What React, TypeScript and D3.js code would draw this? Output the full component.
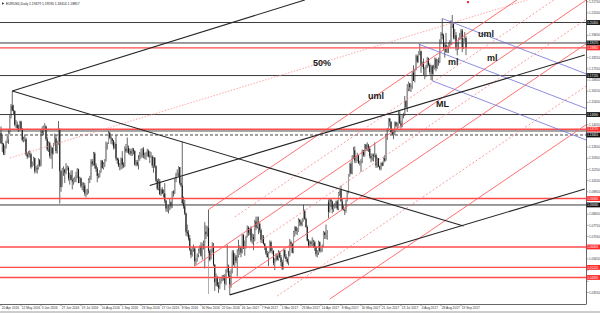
import React from 'react';
import * as d3 from 'd3';

const WIDTH = 600;
const HEIGHT = 313;
const PLOT_RIGHT = 586;
const PLOT_BOTTOM = 304;

const symbolTitle = 'EURUSD,Daily';
const lastBarQuote = ['1.19479', '1.19590', '1.18414', '1.18857'];

// Daily EURUSD bars as [high, low, close, open?] in pips above 1.0000.
// Open defaults to the previous close unless the session gapped.
const apr2016 = [
  [1395, 1285, 1290], [1340, 1235, 1285], [1290, 1215, 1225], [1275, 1215, 1265],
  [1305, 1255, 1300], [1335, 1290, 1315], [1370, 1285, 1355], [1465, 1345, 1455],
];
const may2016 = [
  [1535, 1445, 1525], [1616, 1490, 1495], [1530, 1470, 1490], [1495, 1395, 1405], [1435, 1385, 1405],
  [1425, 1370, 1385], [1405, 1360, 1375], [1430, 1370, 1425], [1430, 1370, 1375], [1385, 1300, 1310],
  [1330, 1295, 1315], [1345, 1300, 1315], [1325, 1210, 1220], [1230, 1190, 1205], [1240, 1200, 1225],
  [1245, 1200, 1220], [1230, 1130, 1140], [1175, 1140, 1155], [1205, 1150, 1195], [1200, 1100, 1115],
  [1145, 1105, 1135], [1155, 1100, 1130],
];
const jun2016 = [
  [1195, 1125, 1185], [1190, 1140, 1150], [1375, 1145, 1365],
  [1395, 1335, 1355], [1400, 1340, 1395], [1415, 1370, 1395], [1400, 1305, 1315], [1330, 1240, 1250],
  [1300, 1235, 1290], [1300, 1195, 1210], [1275, 1190, 1260], [1265, 1130, 1225], [1290, 1220, 1275],
  [1350, 1290, 1320], [1340, 1225, 1240], [1305, 1225, 1290], [1428, 1280, 1380], [1380, 912, 1115],
  [1120, 985, 1015], [1135, 1030, 1125], [1145, 1085, 1125], [1130, 1040, 1105],
];
const jul2016 = [
  [1165, 1095, 1135],
  [1150, 1120, 1135], [1145, 1055, 1070], [1105, 1030, 1090], [1120, 1060, 1060], [1120, 1000, 1050],
  [1070, 1030, 1060], [1080, 1045, 1060], [1110, 1045, 1090], [1135, 1070, 1125], [1130, 1040, 1040],
  [1080, 1040, 1070], [1075, 1010, 1020], [1045, 995, 1025], [1045, 985, 1025], [1040, 960, 975],
  [1000, 950, 990], [1005, 965, 995], [1070, 975, 1060], [1085, 1040, 1075], [1190, 1060, 1175],
];
const aug2016 = [
  [1190, 1145, 1160], [1235, 1150, 1225], [1235, 1130, 1150], [1165, 1110, 1130], [1140, 1045, 1085],
  [1100, 1070, 1090], [1120, 1075, 1115], [1185, 1105, 1180], [1185, 1130, 1135], [1170, 1125, 1160],
  [1190, 1140, 1180], [1300, 1175, 1290], [1295, 1250, 1290], [1366, 1285, 1355], [1360, 1315, 1325],
  [1335, 1285, 1320], [1320, 1280, 1305], [1310, 1250, 1265], [1295, 1255, 1285], [1340, 1180, 1195],
  [1200, 1160, 1185], [1195, 1140, 1150], [1165, 1120, 1155],
];
const sep2016 = [
  [1200, 1125, 1195], [1240, 1130, 1155],
  [1170, 1135, 1150], [1270, 1140, 1255], [1285, 1230, 1240], [1325, 1230, 1260], [1275, 1220, 1230],
  [1255, 1215, 1240], [1255, 1210, 1225], [1260, 1210, 1250], [1260, 1220, 1240], [1245, 1150, 1155],
  [1185, 1145, 1170], [1185, 1145, 1155], [1215, 1125, 1190], [1235, 1180, 1205], [1255, 1195, 1225],
  [1260, 1200, 1250], [1265, 1195, 1215], [1230, 1190, 1220], [1235, 1185, 1225], [1255, 1205, 1240],
];
const oct2016 = [
  [1250, 1200, 1210], [1240, 1165, 1205], [1235, 1200, 1205], [1215, 1135, 1150], [1205, 1105, 1200],
  [1200, 1135, 1145], [1150, 1045, 1055], [1065, 995, 1005], [1070, 995, 1050], [1065, 965, 970],
  [1005, 960, 1000], [1015, 970, 975], [1000, 950, 975], [1040, 915, 930], [935, 860, 880],
  [900, 860, 880], [905, 850, 880], [945, 870, 920], [925, 880, 895], [990, 885, 985],
  [995, 955, 980],
];
const nov2016 = [
  [1070, 970, 1055], [1105, 1045, 1095], [1125, 1085, 1105], [1145, 1080, 1140],
  [1140, 1030, 1040], [1075, 1015, 1025], [1300, 905, 915], [955, 880, 895], [935, 840, 850],
  [855, 710, 735], [780, 705, 725], [745, 680, 695], [715, 615, 625], [630, 570, 590],
  [640, 580, 630], [655, 610, 630], [640, 520, 550], [570, 530, 550], [600, 550, 590],
  [630, 575, 615], [650, 600, 645], [670, 580, 585],
];
const dec2016 = [
  [665, 560, 665], [680, 625, 665],
  [795, 505, 735], [775, 690, 720], [770, 705, 760], [874, 600, 615], [625, 550, 560],
  [630, 565, 625], [670, 605, 635], [665, 520, 530], [530, 365, 420], [475, 395, 450],
  [460, 390, 400], [420, 352, 385], [445, 375, 425], [450, 410, 440], [465, 425, 455],
  [465, 430, 455], [470, 370, 410], [500, 400, 495], [655, 480, 520],
];
const jan2017 = [
  [530, 450, 460], [490, 340, 405], [500, 385, 490], [620, 475, 605], [620, 525, 530],
  [600, 515, 580], [590, 540, 555], [625, 455, 585], [685, 575, 615], [650, 590, 640],
  [630, 575, 605], [720, 600, 715], [720, 630, 630], [680, 585, 660], [710, 630, 705],
  [775, 700, 760], [770, 710, 730], [760, 715, 755], [770, 670, 680], [725, 660, 700],
  [720, 620, 690], [810, 675, 800],
];
const feb2017 = [
  [830, 745, 765], [830, 755, 760], [830, 720, 785],
  [795, 730, 745], [755, 665, 685], [715, 665, 700], [715, 655, 660], [665, 620, 640],
  [645, 590, 600], [615, 575, 575], [610, 520, 605], [680, 600, 670], [680, 605, 615],
  [635, 595, 615], [620, 525, 540], [570, 495, 555], [600, 550, 585], [595, 555, 560],
  [620, 555, 605], [615, 570, 575],
];
const mar2017 = [
  [590, 520, 545], [560, 495, 505], [630, 500, 620],
  [625, 570, 580], [595, 550, 565], [575, 535, 545], [615, 525, 585], [690, 580, 670],
  [680, 640, 660], [665, 600, 605], [740, 600, 735], [770, 705, 765], [770, 720, 740],
  [760, 715, 740], [820, 735, 810], [815, 770, 795], [805, 770, 780], [820, 770, 800],
  [905, 800, 865], [875, 810, 815], [825, 760, 765], [775, 675, 680], [690, 635, 650],
];
const apr2017 = [
  [680, 640, 670], [680, 645, 660], [700, 645, 665], [685, 635, 670], [680, 615, 640],
  [645, 580, 595], [620, 575, 605], [680, 590, 670], [675, 605, 615], [630, 605, 615],
  [655, 610, 645], [740, 640, 730], [735, 690, 715], [780, 690, 715], [745, 685, 725],
  [937, 820, 860, 920], [945, 855, 935], [945, 890, 925], [930, 850, 875], [905, 860, 895],
];
const may2017 = [
  [915, 880, 905], [930, 885, 925], [935, 870, 880], [985, 870, 980], [995, 960, 995],
  [1025, 925, 925], [940, 870, 875], [900, 870, 870], [880, 840, 865], [935, 855, 930],
  [990, 925, 980], [1095, 975, 1090], [1165, 1080, 1160], [1175, 1095, 1100], [1215, 1095, 1210],
  [1265, 1190, 1245], [1270, 1165, 1180], [1210, 1165, 1185], [1230, 1175, 1215], [1215, 1160, 1165],
  [1180, 1150, 1165], [1190, 1110, 1180], [1250, 1165, 1245],
];
const jun2017 = [
  [1245, 1205, 1215], [1285, 1205, 1280],
  [1285, 1240, 1255], [1295, 1240, 1275], [1285, 1235, 1255], [1270, 1195, 1210], [1225, 1170, 1195],
  [1225, 1180, 1215], [1225, 1175, 1210], [1295, 1200, 1215], [1225, 1135, 1150], [1200, 1135, 1195],
  [1195, 1140, 1145], [1150, 1120, 1130], [1170, 1120, 1165], [1175, 1145, 1150], [1200, 1150, 1195],
  [1215, 1170, 1180], [1350, 1180, 1335], [1385, 1310, 1375], [1445, 1370, 1445], [1445, 1395, 1425],
];
const jul2017 = [
  [1425, 1355, 1360], [1375, 1340, 1345], [1370, 1315, 1350], [1425, 1340, 1420], [1425, 1390, 1400],
  [1420, 1375, 1400], [1490, 1395, 1465], [1490, 1410, 1415], [1430, 1380, 1395], [1470, 1390, 1470],
  [1480, 1445, 1475], [1585, 1460, 1555], [1555, 1505, 1515], [1660, 1485, 1630], [1675, 1615, 1665],
  [1665, 1615, 1640], [1655, 1610, 1645], [1740, 1630, 1730], [1777, 1680, 1680], [1755, 1670, 1750],
  [1845, 1745, 1835],
];
const aug2017 = [
  [1845, 1790, 1800], [1865, 1795, 1860], [1910, 1840, 1865], [1870, 1730, 1775],
  [1800, 1765, 1795], [1820, 1715, 1755], [1765, 1690, 1755], [1780, 1705, 1775], [1830, 1760, 1820],
  [1825, 1770, 1780], [1790, 1720, 1735], [1780, 1685, 1770], [1780, 1680, 1725], [1780, 1720, 1760],
  [1825, 1750, 1815], [1825, 1740, 1760], [1815, 1755, 1805], [1825, 1775, 1800], [1940, 1790, 1925],
  [1985, 1910, 1975], [2070, 1940, 1965], [1975, 1870, 1885], [1920, 1825, 1905],
];
const sep2017 = [
  [1980, 1855, 1860],
  [1900, 1855, 1890], [1920, 1855, 1915], [1935, 1890, 1920], [2060, 1905, 2025], [2092, 2010, 2035],
  [2040, 1940, 1950], [2005, 1940, 1965], [1985, 1870, 1885], [1925, 1840, 1920], [1950, 1875, 1945],
  [1980, 1935, 1955], [2005, 1940, 1995], [2005, 1860, 1890], [1945, 1880, 1940], [1985, 1925, 1950],
  [1959, 1841, 1886, 1948],
];
const firstOpen = 1355;

const months = [
  apr2016, may2016, jun2016, jul2016, aug2016, sep2016, oct2016, nov2016, dec2016,
  jan2017, feb2017, mar2017, apr2017, may2017, jun2017, jul2017, aug2017, sep2017,
];

// Time axis labels, one every 16 bars
const dateLabels = [
  '20 Apr 2016', '12 May 2016', '3 Jun 2016', '27 Jun 2016', '19 Jul 2016', '10 Aug 2016',
  '1 Sep 2016', '23 Sep 2016', '17 Oct 2016', '8 Nov 2016', '30 Nov 2016', '22 Dec 2016',
  '16 Jan 2017', '7 Feb 2017', '1 Mar 2017', '23 Mar 2017', '14 Apr 2017', '8 May 2017',
  '30 May 2017', '21 Jun 2017', '13 Jul 2017', '4 Aug 2017', '28 Aug 2017', '19 Sep 2017',
];
const dateLabelEvery = 16;

const priceTicks = [
  1.2175, 1.2105, 1.2035, 1.1965, 1.1895, 1.1825, 1.1755, 1.1685, 1.1615, 1.1545,
  1.1475, 1.1405, 1.1335, 1.1265, 1.1195, 1.1125, 1.1055, 1.0985, 1.0915, 1.0845,
  1.0775, 1.0705, 1.0635, 1.0565, 1.0495, 1.0425, 1.0355,
];

// Horizontal price levels
const blackLevels = [1.2045, 1.1917, 1.1713, 1.1469, 1.0903];
const redLevels = [1.1886, 1.1377, 1.0943, 1.064, 1.0512, 1.0449];
const dashedLevels = [1.1341];
const untaggedLevels = [1.1366];

// Trend lines as [startBar, startPrice, endBar, endPrice]
const forkLines = [
  [9, 1.1616, 243, 1.2186],
  [9, 1.1616, 370, 1.0771],
  [119, 1.1025, 467, 1.1842],
  [183, 1.034, 467, 1.1003],
];
const redSolidLines = [
  [166, 1.0874, 480, 1.2544],
  [155, 1.052, 480, 1.2249],
  [182, 1.039, 480, 1.1975],
  [263, 1.0314, 480, 1.1468],
];
const redDottedLines = [
  [187, 1.0828, 480, 1.2387],
  [199, 1.0634, 480, 1.2129],
  [221, 1.0333, 480, 1.1711],
];
const halfLines = [[7, 1.1197, 480, 1.2327]];
const blueLines = [
  [353, 1.207, 480, 1.1688],
  [334, 1.191, 480, 1.1471],
  [345, 1.168, 480, 1.1274],
];
const guideLines = [[166, 1.06, 166, 1.0346]];
const markerPoints = [[373.6, 1.2173]];

const annotations: [string, number, number][] = [
  ['50%', 249.6, 1.1773],
  ['uml', 293.6, 1.1566],
  ['ML', 348, 1.1516],
  ['ml', 357.6, 1.1779],
  ['ml', 388.8, 1.1804],
  ['uml', 381.6, 1.1954],
];

const FONT = '"Liberation Sans", Arial, sans-serif';

export default function App() {
  const x = d3.scaleLinear().domain([0, 468]).range([1, PLOT_RIGHT]);
  const y = d3.scaleLinear().domain([1.0283, 1.2186]).range([PLOT_BOTTOM, 0]);
  const pip = (v: number) => 1 + v / 10000;

  const bars = months.flat();
  const candles = bars.map((b, i) => {
    const o = b.length > 3 ? b[3] : i ? bars[i - 1][2] : firstOpen;
    return { i, o: pip(o), h: pip(b[0]), l: pip(b[1]), c: pip(b[2]) };
  });

  // price tags sit on top of the scale; scale labels underneath them are hidden
  const taggedPrices = [...blackLevels, ...dashedLevels, ...redLevels];
  const visibleTicks = priceTicks.filter((t) =>
    taggedPrices.every((p) => Math.abs(y(p) - y(t)) > 4.2)
  );

  const seg = (l: number[], key: string, props: any) => (
    <line key={key} x1={x(l[0])} y1={y(l[1])} x2={x(l[2])} y2={y(l[3])} {...props} />
  );

  const level = (p: number, key: string, props: any) => (
    <line key={key} x1={0} x2={PLOT_RIGHT} y1={y(p)} y2={y(p)} {...props} />
  );

  const tag = (p: number, fill: string, key: string) => (
    <g key={key}>
      <rect x={PLOT_RIGHT + 0.5} y={y(p) - 2.4} width={13.5} height={4.8} fill={fill} />
      <text x={PLOT_RIGHT + 1.3} y={y(p) + 1.1} fontSize={3} fill="#fff" fontFamily={FONT}>
        {p.toFixed(5)}
      </text>
    </g>
  );

  return (
    <svg
      width={WIDTH}
      height={HEIGHT}
      style={{ position: 'absolute', left: 0, top: 0, background: '#fff' }}
    >
      <defs>
        <clipPath id="plotArea">
          <rect x={0} y={0} width={PLOT_RIGHT} height={PLOT_BOTTOM} />
        </clipPath>
      </defs>
      <rect x={0} y={0} width={WIDTH} height={HEIGHT} fill="#fff" />

      <g clipPath="url(#plotArea)">
        {/* candles */}
        {candles.map((d) => {
          const cx = x(d.i);
          const top = y(Math.max(d.o, d.c));
          const bot = y(Math.min(d.o, d.c));
          const bull = d.c >= d.o;
          return (
            <g key={`c${d.i}`}>
              <line x1={cx} x2={cx} y1={y(d.h)} y2={y(d.l)} stroke="#555" strokeWidth={0.9} />
              <rect
                x={cx - 0.55}
                y={top}
                width={1.1}
                height={Math.max(0.7, bot - top)}
                fill={bull ? '#9a9a9a' : '#1a1a1a'}
              />
            </g>
          );
        })}

        {/* horizontal levels */}
        {blackLevels.map((p, i) => level(p, `bl${i}`, { stroke: '#3a3a3a', strokeWidth: 1 }))}
        {untaggedLevels.map((p, i) => level(p, `ul${i}`, { stroke: '#3a3a3a', strokeWidth: 0.9 }))}
        {dashedLevels.map((p, i) =>
          level(p, `dl${i}`, { stroke: '#444', strokeWidth: 1, strokeDasharray: '3,2' })
        )}
        {redLevels.map((p, i) => level(p, `rl${i}`, { stroke: '#ff4a4a', strokeWidth: 1.4 }))}

        {/* trend lines */}
        {guideLines.map((l, i) => seg(l, `g${i}`, { stroke: '#999', strokeWidth: 0.8 }))}
        {halfLines.map((l, i) =>
          seg(l, `h${i}`, { stroke: '#ff9090', strokeWidth: 0.8, strokeDasharray: '1.5,1.5' })
        )}
        {redDottedLines.map((l, i) =>
          seg(l, `rd${i}`, { stroke: '#ff8080', strokeWidth: 0.8, strokeDasharray: '2,2' })
        )}
        {redSolidLines.map((l, i) => seg(l, `rs${i}`, { stroke: '#ff6060', strokeWidth: 0.9 }))}
        {blueLines.map((l, i) => seg(l, `b${i}`, { stroke: '#7070d8', strokeWidth: 0.8 }))}
        {forkLines.map((l, i) => seg(l, `k${i}`, { stroke: '#262626', strokeWidth: 1.1 }))}
        {markerPoints.map((m, i) => (
          <circle key={`m${i}`} cx={x(m[0])} cy={y(m[1])} r={1.2} fill="#ff2020" />
        ))}

        {annotations.map(([t, b, p], i) => (
          <text
            key={`a${i}`}
            x={x(b)}
            y={y(p)}
            fontSize={9}
            fontWeight="bold"
            fill="#1a1a1a"
            fontFamily={FONT}
          >
            {t}
          </text>
        ))}
      </g>

      {/* title */}
      <path d="M2,2.2 L4.4,3.5 L2,4.8 Z" fill="#333" />
      <text x={6} y={4.7} fontSize={3.3} fill="#222" fontFamily={FONT}>
        {symbolTitle + '  ' + lastBarQuote.join(' ')}
      </text>

      {/* price axis */}
      <line x1={PLOT_RIGHT + 0.5} x2={PLOT_RIGHT + 0.5} y1={0} y2={PLOT_BOTTOM} stroke="#666" />
      {priceTicks.map((t, i) => (
        <line
          key={`ptk${i}`}
          x1={PLOT_RIGHT}
          x2={PLOT_RIGHT + 2.5}
          y1={y(t)}
          y2={y(t)}
          stroke="#666"
          strokeWidth={0.6}
        />
      ))}
      {visibleTicks.map((t, i) => (
        <text key={`pt${i}`} x={PLOT_RIGHT + 3} y={y(t) + 1.1} fontSize={3} fill="#333" fontFamily={FONT}>
          {t.toFixed(5)}
        </text>
      ))}
      {blackLevels.map((p, i) => tag(p, '#111', `tb${i}`))}
      {dashedLevels.map((p, i) => tag(p, '#111', `td${i}`))}
      {redLevels.map((p, i) => tag(p, '#ff2a2a', `tr${i}`))}

      {/* time axis */}
      <line x1={0} x2={PLOT_RIGHT + 0.5} y1={PLOT_BOTTOM + 0.5} y2={PLOT_BOTTOM + 0.5} stroke="#666" />
      {dateLabels.map((lab, i) => {
        const tx = x(i * dateLabelEvery);
        return (
          <g key={`dt${i}`}>
            <line x1={tx} x2={tx} y1={PLOT_BOTTOM} y2={PLOT_BOTTOM + 2} stroke="#666" strokeWidth={0.6} />
            <text x={tx + 0.8} y={PLOT_BOTTOM + 5.3} fontSize={3.2} fill="#333" fontFamily={FONT}>
              {lab}
            </text>
          </g>
        );
      })}
      <line x1={0} x2={WIDTH} y1={312} y2={312} stroke="#9a9a9a" strokeWidth={1} />
    </svg>
  );
}
